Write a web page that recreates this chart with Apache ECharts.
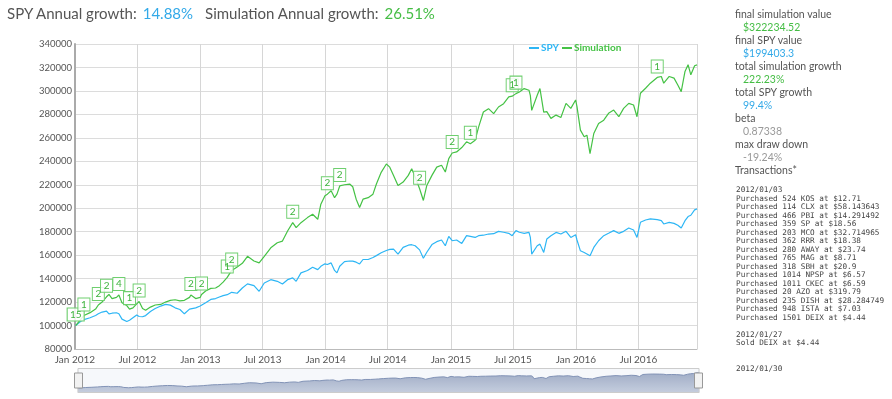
<!DOCTYPE html>
<html>
<head>
<meta charset="utf-8">
<script src="https://cdn.jsdelivr.net/npm/echarts@6/dist/echarts.min.js"></script>
<style>
  body { margin: 0; background: #fff; font-family: Lato, "Open Sans", sans-serif; }
  #chart { position: absolute; left: 0; top: 0; width: 892px; height: 399px; }
  #head { position: absolute; left: 7px; top: 3px; font-size: 15px; line-height: 20px; color: #555; white-space: nowrap; }
  #head .v { margin-left: 6px; margin-right: 12px; }
  #side { position: absolute; left: 735px; top: 8px; font-size: 10.5px; line-height: 13px; color: #555; white-space: nowrap; }
  #side .val { padding-left: 8px; }
  .green { color: #45bd45; }
  .blue { color: #32a9e8; }
  .gray { color: #999; }
  #trans { position: absolute; left: 736px; top: 186px; font-family: "DejaVu Sans Mono", monospace; font-size: 7.7px; line-height: 8.5px; color: #444; white-space: pre; }
</style>
</head>
<body>
<div id="chart"></div>
<div id="head">SPY Annual growth:<span class="v blue">14.88%</span>Simulation Annual growth:<span class="v green">26.51%</span></div>
<div id="side">
  <div>final simulation value</div>
  <div class="val green">$322234.52</div>
  <div>final SPY value</div>
  <div class="val blue">$199403.3</div>
  <div>total simulation growth</div>
  <div class="val green">222.23%</div>
  <div>total SPY growth</div>
  <div class="val blue">99.4%</div>
  <div>beta</div>
  <div class="val gray">0.87338</div>
  <div>max draw down</div>
  <div class="val gray">-19.24%</div>
  <div>Transactions*</div>
</div>
<div id="trans"></div>
<script>
// dates of the sampled points (roughly every two weeks)
var dates = [
  '2012-01-03','2012-01-17','2012-01-27','2012-02-14','2012-03-01','2012-03-09','2012-03-20','2012-04-02','2012-04-09','2012-04-18','2012-05-01','2012-05-08','2012-05-17','2012-05-31','2012-06-08','2012-06-18','2012-06-29','2012-07-06','2012-07-16','2012-07-25','2012-08-08','2012-08-22','2012-09-07','2012-09-21','2012-10-05','2012-10-19','2012-11-02','2012-11-15','2012-11-30','2012-12-04','2012-12-18','2012-12-31',
  '2013-01-04','2013-01-16','2013-01-31','2013-02-14','2013-02-25','2013-03-08','2013-03-20','2013-04-02','2013-04-18','2013-05-03','2013-05-18','2013-06-06','2013-06-21','2013-07-06','2013-07-25','2013-08-13','2013-08-28','2013-09-12','2013-09-27','2013-10-07','2013-10-21','2013-11-09','2013-11-24','2013-12-09','2013-12-18','2013-12-30',
  '2014-01-06','2014-01-17','2014-01-27','2014-02-03','2014-02-11','2014-02-25','2014-03-12','2014-03-21','2014-03-31','2014-04-10','2014-04-20','2014-05-05','2014-05-19','2014-05-29','2014-06-12','2014-06-27','2014-07-07','2014-07-18','2014-07-31','2014-08-15','2014-08-30','2014-09-09','2014-09-19','2014-10-02','2014-10-13','2014-10-23','2014-11-07','2014-11-21','2014-12-05','2014-12-16','2014-12-26',
  '2015-01-05','2015-01-18','2015-02-02','2015-02-16','2015-02-27','2015-03-13','2015-03-23','2015-04-06','2015-04-21','2015-05-06','2015-05-20','2015-06-04','2015-06-19','2015-06-29','2015-07-10','2015-07-20','2015-08-03','2015-08-17','2015-08-21','2015-08-25','2015-09-10','2015-09-18','2015-09-29','2015-10-08','2015-10-20','2015-11-04','2015-11-18','2015-12-03','2015-12-17','2015-12-31',
  '2016-01-04','2016-01-14','2016-01-25','2016-02-02','2016-02-11','2016-02-22','2016-03-07','2016-03-22','2016-04-05','2016-04-20','2016-05-05','2016-05-19','2016-06-03','2016-06-17','2016-06-27','2016-07-07','2016-07-22','2016-08-05','2016-08-25','2016-09-06','2016-09-13','2016-09-29','2016-10-13','2016-10-24','2016-11-03','2016-11-14','2016-11-23','2016-12-01','2016-12-12','2016-12-19'
];

var spyValues = [
  100000,103500,105000,106600,108600,110000,111500,112300,110000,110500,110900,110000,105500,103500,104500,106600,108900,107700,107500,108500,112000,114500,116600,118000,117400,115100,113700,110000,114000,114600,115100,116600,
  117500,119400,122300,123000,124300,125500,126300,128300,127500,132000,135500,134000,129200,136300,139100,137700,135400,139100,140600,137700,144900,146900,149700,147700,150500,152600,
  152000,153400,147000,144900,150500,154500,155000,154900,154000,152500,156300,156300,158000,159600,162000,164000,164900,165100,160900,166600,168500,168900,168000,164500,157400,162500,169000,171500,172900,168000,176000,
  172300,172900,170000,176600,176000,175100,176600,177000,178000,178300,180300,179500,178600,176600,180900,179500,178600,179400,175100,160900,168000,169400,162300,173700,176500,179400,178000,180300,175100,177400,
  172900,163700,162300,161000,159400,166600,172300,176600,178600,180900,178600,180300,183100,181400,175100,188000,190000,190900,190300,189400,186600,188000,187100,185500,183100,189400,192900,194000,198600,199403.3
];

var simValues = [
  100000,105000,108500,111000,114000,117500,120000,124500,126500,123000,124000,126000,119500,117000,114000,115000,118500,120500,114500,113000,115700,117500,118000,120000,121500,122000,121000,121500,124000,126000,123000,124000,
  126500,129500,131700,132000,134000,137000,141000,147000,150000,153000,159000,155000,153400,159000,166300,170600,172000,180600,187700,183400,187700,192000,194900,190600,203400,210600,
  212000,214900,209000,212000,219000,220000,220600,218300,207700,200600,207700,209000,212000,220600,230600,237700,235000,228000,219400,222300,228000,233700,226600,216600,206600,219400,228000,235000,236600,230900,242300,
  247100,248000,251700,256600,255000,257900,269100,282000,284900,280600,286300,289100,294900,295500,297700,299100,302000,300600,296000,283400,296300,302000,282000,282300,276600,279400,277400,289400,285100,292300,
  286600,266600,260900,262300,246600,263700,272300,275100,280900,283700,278000,285100,289400,288000,278000,298000,302300,306600,311500,312300,306600,312300,310900,305100,299400,316600,322300,313700,321400,322234.52
];

// transaction flags on the simulation line: date and number of trades
var flagDates = ['2012-01-03','2012-01-27','2012-03-09','2012-04-02','2012-05-08','2012-06-08','2012-07-06','2012-12-04','2013-01-04','2013-03-20','2013-04-02','2013-09-27','2014-01-06','2014-02-11','2014-10-02','2015-01-05','2015-02-27','2015-06-29','2015-07-10','2016-08-25'];
var flagCounts = [15,1,2,2,4,1,2,2,2,1,2,2,2,2,2,2,1,1,1,1];

var transactions = [
  '2012/01/03',
  'Purchased 524 KOS at $12.71',
  'Purchased 114 CLX at $58.143643',
  'Purchased 466 PBI at $14.291492',
  'Purchased 359 SP at $18.56',
  'Purchased 203 MCO at $32.714965',
  'Purchased 362 RRR at $18.38',
  'Purchased 280 AWAY at $23.74',
  'Purchased 765 MAG at $8.71',
  'Purchased 318 SBH at $20.9',
  'Purchased 1014 NPSP at $6.57',
  'Purchased 1011 CKEC at $6.59',
  'Purchased 20 AZO at $319.79',
  'Purchased 235 DISH at $28.284749',
  'Purchased 948 ISTA at $7.03',
  'Purchased 1501 DEIX at $4.44',
  '',
  '2012/01/27',
  'Sold DEIX at $4.44',
  '',
  '',
  '2012/01/30'
];
document.getElementById('trans').textContent = transactions.join('\n');

var months = ['Jan','Feb','Mar','Apr','May','Jun','Jul','Aug','Sep','Oct','Nov','Dec'];
var SPY_COLOR = '#2db6f5';
var SIM_COLOR = '#45c245';

var spyData = dates.map(function (d, i) { return [d, spyValues[i]]; });
var simData = dates.map(function (d, i) { return [d, simValues[i]]; });

var flagPoints = flagDates.map(function (d, i) {
  var idx = dates.indexOf(d);
  return {
    coord: [d, simValues[idx]],
    value: flagCounts[i],
    symbolSize: flagCounts[i] > 9 ? [17, 13] : [12, 13]
  };
});

var myChart = echarts.init(document.getElementById('chart'));
var option = {
  animation: false,
  backgroundColor: 'transparent',
  grid: { left: 75, right: 195, top: 44, bottom: 50, containLabel: false },
  legend: {
    left: 524, top: 38,
    icon: 'rect', itemWidth: 10, itemHeight: 2, itemGap: 3,
    textStyle: { fontFamily: 'Lato', fontSize: 10, fontWeight: 'bold', padding: [0, 0, 0, -3] },
    data: [
      { name: 'SPY', textStyle: { color: SPY_COLOR } },
      { name: 'Simulation', textStyle: { color: SIM_COLOR } }
    ]
  },
  xAxis: {
    type: 'time',
    min: +new Date(2012, 0, 1),
    max: 'dataMax',
    splitNumber: 10,
    minInterval: 180 * 86400000,
    maxInterval: 185 * 86400000,
    axisLine: { show: true, lineStyle: { color: '#bbb', width: 1 } },
    axisTick: { show: false },
    splitLine: { show: true, lineStyle: { color: '#d6d6d6', width: 1 } },
    axisLabel: {
      color: '#555', fontFamily: 'Lato', fontSize: 10, margin: 6,
      formatter: function (val) {
        var d = new Date(val);
        return months[d.getMonth()] + ' ' + d.getFullYear();
      }
    }
  },
  yAxis: {
    type: 'value',
    min: 80000, max: 340000, interval: 20000,
    axisLine: { show: true, lineStyle: { color: '#aaa', width: 2 } },
    axisTick: { show: false },
    splitLine: { show: true, lineStyle: { color: '#dcdcdc', width: 1 } },
    axisLabel: {
      color: '#555', fontFamily: 'Lato', fontSize: 9.5, margin: 3,
      formatter: function (v) { return String(v); }
    }
  },
  dataZoom: [{
    type: 'slider',
    left: 75, right: 195, top: 368, height: 25,
    start: 0, end: 100,
    showDetail: false,
    brushSelect: false,
    moveHandleSize: 0,
    backgroundColor: '#fff',
    borderColor: '#ccc',
    fillerColor: 'rgba(102,133,194,0.06)',
    handleIcon: 'path://M0,0 h8 v15 h-8 z',
    handleSize: 15,
    handleStyle: { color: '#f2f2f2', borderColor: '#999', borderWidth: 1 },
    dataBackground: {
      lineStyle: { color: '#8494b6', width: 1, opacity: 1 },
      areaStyle: { color: '#b5bfd3', opacity: 1 }
    },
    selectedDataBackground: {
      lineStyle: { color: '#8494b6', width: 1, opacity: 1 },
      areaStyle: {
        opacity: 1,
        color: new echarts.graphic.LinearGradient(0, 0, 0, 1, [
          { offset: 0, color: '#ccd3e1' },
          { offset: 1, color: '#a5b0c8' }
        ])
      }
    }
  }],
  series: [
    {
      name: 'SPY', type: 'line', data: spyData,
      showSymbol: false, symbol: 'none',
      lineStyle: { color: SPY_COLOR, width: 1.2 },
      itemStyle: { color: SPY_COLOR }
    },
    {
      name: 'Simulation', type: 'line', data: simData,
      showSymbol: false, symbol: 'none',
      lineStyle: { color: SIM_COLOR, width: 1.2 },
      itemStyle: { color: SIM_COLOR },
      markPoint: {
        symbol: 'rect',
        symbolOffset: [0, -11],
        itemStyle: { color: 'rgba(255,255,255,0.85)', borderColor: '#6fcf6f', borderWidth: 1 },
        label: { show: true, position: 'inside', color: '#3fb43f', fontFamily: 'Lato', fontSize: 10, formatter: '{c}' },
        data: flagPoints
      }
    }
  ]
};
myChart.setOption(option);
</script>
</body>
</html>
